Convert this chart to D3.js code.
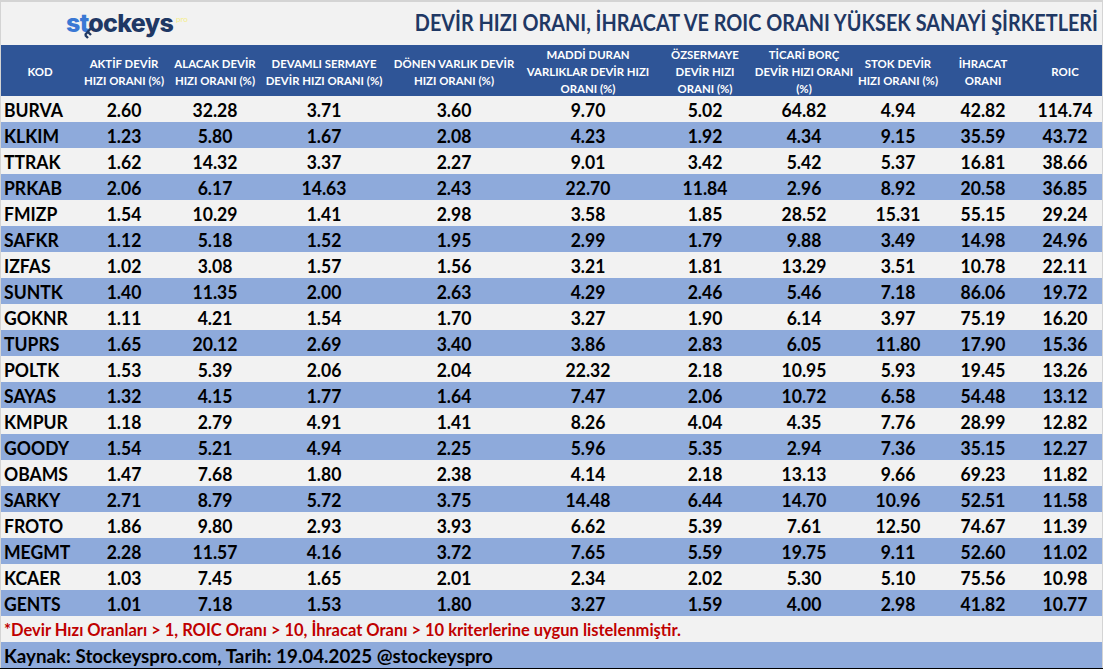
<!DOCTYPE html>
<html>
<head>
	<meta charset="utf-8">
	<title>Devir hizi tablosu</title>
	<style>
		html, body { margin: 0; padding: 0; background: #f2f2f2; overflow: hidden; }
		svg { display: block; font-family: Lato, sans-serif; }
	</style>
</head>
<body>
<div id="chart"></div>
<script src="https://cdnjs.cloudflare.com/ajax/libs/d3/7.8.5/d3.min.js"></script>
<script>
	// values
	const codes = ["BURVA","KLKIM","TTRAK","PRKAB","FMIZP","SAFKR","IZFAS","SUNTK","GOKNR","TUPRS","POLTK","SAYAS","KMPUR","GOODY","OBAMS","SARKY","FROTO","MEGMT","KCAER","GENTS"];
	const aktif = ["2.60","1.23","1.62","2.06","1.54","1.12","1.02","1.40","1.11","1.65","1.53","1.32","1.18","1.54","1.47","2.71","1.86","2.28","1.03","1.01"];
	const alacak = ["32.28","5.80","14.32","6.17","10.29","5.18","3.08","11.35","4.21","20.12","5.39","4.15","2.79","5.21","7.68","8.79","9.80","11.57","7.45","7.18"];
	const devamli = ["3.71","1.67","3.37","14.63","1.41","1.52","1.57","2.00","1.54","2.69","2.06","1.77","4.91","4.94","1.80","5.72","2.93","4.16","1.65","1.53"];
	const donen = ["3.60","2.08","2.27","2.43","2.98","1.95","1.56","2.63","1.70","3.40","2.04","1.64","1.41","2.25","2.38","3.75","3.93","3.72","2.01","1.80"];
	const maddi = ["9.70","4.23","9.01","22.70","3.58","2.99","3.21","4.29","3.27","3.86","22.32","7.47","8.26","5.96","4.14","14.48","6.62","7.65","2.34","3.27"];
	const ozsermaye = ["5.02","1.92","3.42","11.84","1.85","1.79","1.81","2.46","1.90","2.83","2.18","2.06","4.04","5.35","2.18","6.44","5.39","5.59","2.02","1.59"];
	const ticari = ["64.82","4.34","5.42","2.96","28.52","9.88","13.29","5.46","6.14","6.05","10.95","10.72","4.35","2.94","13.13","14.70","7.61","19.75","5.30","4.00"];
	const stok = ["4.94","9.15","5.37","8.92","15.31","3.49","3.51","7.18","3.97","11.80","5.93","6.58","7.76","7.36","9.66","10.96","12.50","9.11","5.10","2.98"];
	const ihracat = ["42.82","35.59","16.81","20.58","55.15","14.98","10.78","86.06","75.19","17.90","19.45","54.48","28.99","35.15","69.23","52.51","74.67","52.60","75.56","41.82"];
	const roic = ["114.74","43.72","38.66","36.85","29.24","24.96","22.11","19.72","16.20","15.36","13.26","13.12","12.82","12.27","11.82","11.58","11.39","11.02","10.98","10.77"];

	const headers = [
		["KOD"],
		["AKTİF DEVİR","HIZI ORANI (%)"],
		["ALACAK DEVİR","HIZI ORANI (%)"],
		["DEVAMLI SERMAYE","DEVİR HIZI ORANI (%)"],
		["DÖNEN VARLIK DEVİR","HIZI ORANI (%)"],
		["MADDİ DURAN","VARLIKLAR DEVİR HIZI","ORANI (%)"],
		["ÖZSERMAYE","DEVİR HIZI","ORANI (%)"],
		["TİCARİ BORÇ","DEVİR HIZI ORANI","(%)"],
		["STOK DEVİR","HIZI ORANI (%)"],
		["İHRACAT","ORANI"],
		["ROIC"]
	];
	const columns = [codes, aktif, alacak, devamli, donen, maddi, ozsermaye, ticari, stok, ihracat, roic];

	const titleText = "DEVİR HIZI ORANI, İHRACAT VE ROIC ORANI YÜKSEK SANAYİ ŞİRKETLERİ";
	const noteText = "*Devir Hızı Oranları > 1, ROIC Oranı > 10, İhracat Oranı > 10 kriterlerine uygun listelenmiştir.";
	const sourceText = "Kaynak: Stockeyspro.com, Tarih: 19.04.2025 @stockeyspro";

	// canvas setting
	const width = 1103, height = 669;
	const rowsTop = 96, rowsBottom = 616;
	const colCenters = [40, 124, 215, 324, 454, 588, 705, 804, 898, 983, 1065];

	const colors = { head: "#2f5597", band: "#8eaadb", light: "#f2f2f2", dark: "#1f3864" };

	const scaleY = d3.scaleBand().domain(codes).range([rowsTop, rowsBottom]);
	const scaleX = d3.scaleOrdinal().domain(d3.range(columns.length)).range(colCenters);

	const svg = d3.select("#chart").append("svg")
		.attr("width", width)
		.attr("height", height);

	// narrow text a bit, Lato is wider than the original font
	function put(x, y, text, size, weight, fill, anchor, squeeze) {
		return svg.append("text")
			.attr("transform", "translate(" + x + "," + y + ") scale(" + squeeze + ",1)")
			.attr("text-anchor", anchor)
			.attr("font-size", size)
			.attr("font-weight", weight)
			.attr("fill", fill)
			.text(text);
	}

	// page frame
	svg.append("rect").attr("width", width).attr("height", height).attr("fill", colors.light);
	svg.append("rect").attr("width", width).attr("height", 2).attr("fill", "#d4d4d4");
	svg.append("rect").attr("width", 1).attr("height", height).attr("fill", "#d4d4d4");
	svg.append("rect").attr("x", width - 1).attr("width", 1).attr("height", height).attr("fill", "#d4d4d4");

	// logo
	const logo = svg.append("text")
		.attr("x", 66).attr("y", 32)
		.attr("font-family", "Inter, sans-serif")
		.attr("font-size", 25)
		.attr("font-weight", 800)
		.attr("letter-spacing", -0.7)
		.attr("fill", colors.dark);
	logo.append("tspan").attr("fill", "#3a78d4").text("st");
	logo.append("tspan").text("ockeys");
	svg.append("path")
		.attr("d", "M92 27 L85 35 M88 32 L91 35 M85 35 L88 38")
		.attr("stroke", colors.dark)
		.attr("stroke-width", 2.4)
		.attr("fill", "none");
	put(176, 22, "pro", 8, 400, "#f5ee8a", "start", 1);

	// title
	put(1098, 31, titleText, 22.5, 700, colors.dark, "end", 0.882);

	// header band
	svg.append("rect")
		.attr("x", 1).attr("y", 45)
		.attr("width", width - 2).attr("height", rowsTop - 45)
		.attr("fill", colors.head);

	headers.forEach(function(lines, i) {
		const step = 17;
		const first = 76 - (lines.length - 1) * step / 2;
		lines.forEach(function(line, k) {
			put(scaleX(i), first + k * step, line, 12, 700, "#ffffff", "middle", 0.95);
		});
	});

	// rows
	svg.append("g").selectAll("rect")
		.data(codes)
		.enter()
		.append("rect")
		.attr("x", 1)
		.attr("y", d => scaleY(d))
		.attr("width", width - 2)
		.attr("height", scaleY.bandwidth())
		.attr("fill", (d, i) => i % 2 ? colors.band : colors.light);

	columns.forEach(function(values, c) {
		values.forEach(function(v, r) {
			const y = scaleY(codes[r]) + scaleY.bandwidth() / 2 + 8;
			if (c === 0) {
				put(4, y, v, 18.5, 700, "#000000", "start", 0.95);
			} else {
				put(scaleX(c), y, v, 18.5, 700, "#000000", "middle", 0.95);
			}
		});
	});

	// notes
	put(4, 636, noteText, 16.5, 700, "#c00000", "start", 1.0);
	svg.append("rect")
		.attr("x", 1).attr("y", 642)
		.attr("width", width - 2).attr("height", 26)
		.attr("fill", colors.band);
	put(4, 663, sourceText, 19, 700, "#000000", "start", 0.988);
	svg.append("rect").attr("y", 668).attr("width", width).attr("height", 1).attr("fill", "#000000");
</script>
</body>
</html>
